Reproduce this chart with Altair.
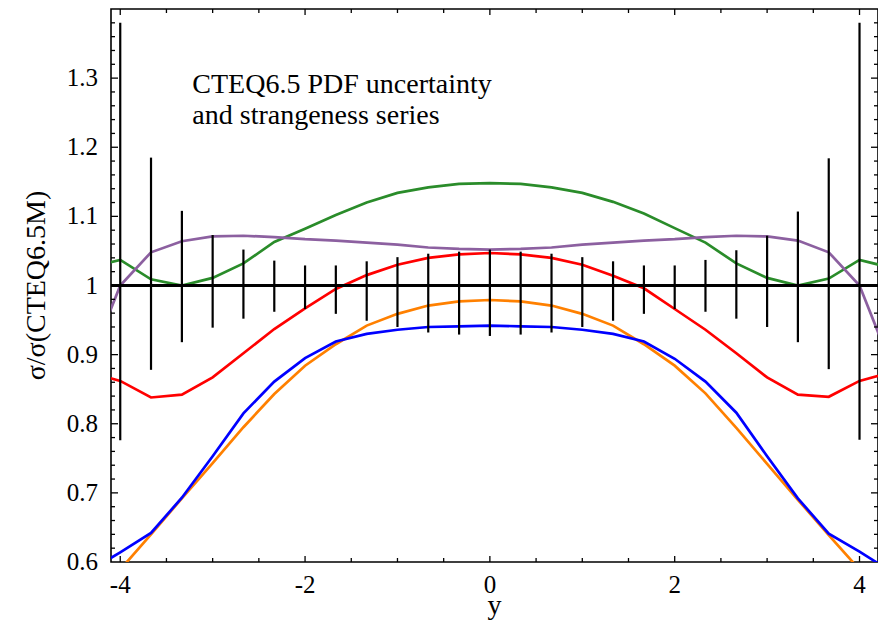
import altair as alt
import pandas as pd

# rapidity sample points (steps of 1/3)
x_pts = [-4.333, -4.0, -3.667, -3.333, -3.0, -2.667, -2.333, -2.0, -1.667, -1.333, -1.0, -0.667, -0.333,
         0.0, 0.333, 0.667, 1.0, 1.333, 1.667, 2.0, 2.333, 2.667, 3.0, 3.333, 3.667, 4.0, 4.333]

green = [1.026, 1.037, 1.009, 1.000, 1.011, 1.032, 1.063, 1.082, 1.102, 1.120, 1.134, 1.142, 1.147,
         1.148, 1.147, 1.142, 1.134, 1.121, 1.104, 1.083, 1.062, 1.032, 1.011, 1.000, 1.010, 1.037, 1.026]
purple = [0.888, 1.000, 1.048, 1.064, 1.071, 1.072, 1.070, 1.067, 1.065, 1.062, 1.059, 1.055, 1.053,
          1.052, 1.053, 1.055, 1.059, 1.062, 1.065, 1.067, 1.070, 1.072, 1.071, 1.065, 1.048, 1.000, 0.888]
red = [0.874, 0.862, 0.838, 0.842, 0.867, 0.902, 0.937, 0.967, 0.995, 1.015, 1.030, 1.040, 1.045,
       1.047, 1.045, 1.040, 1.030, 1.014, 0.996, 0.966, 0.936, 0.902, 0.867, 0.842, 0.839, 0.862, 0.874]
orange = [0.537, 0.589, 0.640, 0.692, 0.743, 0.795, 0.843, 0.884, 0.915, 0.942, 0.959, 0.971, 0.977,
          0.979, 0.977, 0.971, 0.959, 0.942, 0.915, 0.884, 0.844, 0.794, 0.742, 0.690, 0.639, 0.589, 0.537]
blue = [0.587, 0.614, 0.642, 0.693, 0.753, 0.815, 0.861, 0.895, 0.919, 0.930, 0.936, 0.940, 0.941,
        0.942, 0.941, 0.940, 0.936, 0.930, 0.919, 0.894, 0.861, 0.816, 0.753, 0.692, 0.641, 0.615, 0.587]

series_names = ["strange-low", "strange-high", "red", "orange", "blue"]
series_colors = ["#2a8c2a", "#8c60a0", "#ff0000", "#ff8000", "#0000ff"]

# PDF uncertainty band (error bars around 1)
err_x = [-4.0, -3.667, -3.333, -3.0, -2.667, -2.333, -2.0, -1.667, -1.333, -1.0, -0.667, -0.333,
         0.0, 0.333, 0.667, 1.0, 1.333, 1.667, 2.0, 2.333, 2.667, 3.0, 3.333, 3.667, 4.0]
err_hi = [1.380, 1.185, 1.108, 1.073, 1.052, 1.036, 1.029, 1.029, 1.035, 1.041, 1.046, 1.049,
          1.052, 1.049, 1.046, 1.041, 1.035, 1.029, 1.029, 1.037, 1.051, 1.072, 1.107, 1.184, 1.380]
err_lo = [0.776, 0.878, 0.918, 0.939, 0.952, 0.962, 0.966, 0.959, 0.949, 0.940, 0.932, 0.929,
          0.927, 0.929, 0.932, 0.940, 0.949, 0.959, 0.966, 0.962, 0.952, 0.940, 0.918, 0.879, 0.777]

ref_value = [1.0]

x_domain = [-4.1, 4.2]
y_domain = [0.6, 1.4]
x_labels = [-4, -2, 0, 2, 4]
x_label_text = ["-4", "-2", "0", "2", "4"]
x_minor = [-3.5, -3.0, -2.5, -1.5, -1.0, -0.5, 0.5, 1.0, 1.5, 2.5, 3.0, 3.5]
y_labels = [0.6, 0.7, 0.8, 0.9, 1.0, 1.1, 1.2, 1.3]
y_label_text = ["0.6", "0.7", "0.8", "0.9", "1", "1.1", "1.2", "1.3"]
y_major_ticks = [0.7, 0.8, 0.9, 1.0, 1.1, 1.2, 1.3]
y_minor = [0.62, 0.64, 0.66, 0.68, 0.72, 0.74, 0.76, 0.78, 0.82, 0.84, 0.86, 0.88, 0.92, 0.94, 0.96,
           0.98, 1.02, 1.04, 1.06, 1.08, 1.12, 1.14, 1.16, 1.18, 1.22, 1.24, 1.26, 1.28, 1.32, 1.34,
           1.36, 1.38]

x_title = "y"
y_title = "σ/σ(CTEQ6.5M)"
note_text = ["CTEQ6.5 PDF uncertainty", "and strangeness series"]
note_x = [-3.22]
note_y = [1.279]

W, H = 767, 553
FONT = "Liberation Serif"

xs = alt.Scale(domain=x_domain, nice=False, zero=False)
ys = alt.Scale(domain=y_domain, nice=False, zero=False)

def X(field):
    return alt.X(field, scale=xs, axis=None)

def Y(field):
    return alt.Y(field, scale=ys, axis=None)

rows = []
for name, vals in zip(series_names, [green, purple, red, orange, blue]):
    for xv, yv in zip(x_pts, vals):
        rows.append({"x": xv, "v": yv, "s": name})
df_lines = pd.DataFrame(rows)
df_err = pd.DataFrame({"x": err_x, "hi": err_hi, "lo": err_lo})
df_ref = pd.DataFrame({"v": ref_value})

lines = alt.Chart(df_lines).mark_line(clip=True, strokeWidth=2.7).encode(
    x=X("x:Q"), y=Y("v:Q"),
    color=alt.Color("s:N", scale=alt.Scale(domain=series_names, range=series_colors), legend=None),
    detail="s:N",
)

errs = alt.Chart(df_err).mark_rule(color="black", strokeWidth=2.2).encode(
    x=X("x:Q"), y=Y("lo:Q"), y2="hi:Q",
)

ref = alt.Chart(df_ref).mark_rule(color="black", strokeWidth=3).encode(y=Y("v:Q"))

def tick_layer(vals, orient, length):
    d = pd.DataFrame({"t": vals})
    c = alt.Chart(d).mark_rule(color="black", strokeWidth=1.3)
    if orient == "bottom":
        return c.encode(x=X("t:Q"), y=alt.value(H), y2=alt.value(H - length))
    if orient == "top":
        return c.encode(x=X("t:Q"), y=alt.value(0), y2=alt.value(length))
    if orient == "left":
        return c.encode(y=Y("t:Q"), x=alt.value(0), x2=alt.value(length))
    return c.encode(y=Y("t:Q"), x=alt.value(W), x2=alt.value(W - length))

ticks = [
    tick_layer(x_labels, "bottom", 6), tick_layer(x_minor, "bottom", 4),
    tick_layer(x_labels, "top", 6), tick_layer(x_minor, "top", 4),
    tick_layer(y_major_ticks, "left", 7), tick_layer(y_minor, "left", 4),
    tick_layer(y_major_ticks, "right", 7), tick_layer(y_minor, "right", 4),
]

xlab = alt.Chart(pd.DataFrame({"t": x_labels, "s": x_label_text})).mark_text(
    font=FONT, fontSize=25, color="black", align="center", baseline="alphabetic",
).encode(x=X("t:Q"), y=alt.value(H + 31), text="s:N")

ylab = alt.Chart(pd.DataFrame({"t": y_labels, "s": y_label_text})).mark_text(
    font=FONT, fontSize=25, color="black", align="right", baseline="alphabetic", dy=8,
).encode(y=Y("t:Q"), x=alt.value(-13), text="s:N")

xtitle = alt.Chart(pd.DataFrame({"s": [x_title]})).mark_text(
    font=FONT, fontSize=28, color="black", align="center", baseline="alphabetic",
).encode(x=alt.value(W / 2), y=alt.value(H + 52), text="s:N")

ytitle = alt.Chart(pd.DataFrame({"s": [y_title]})).mark_text(
    font=FONT, fontSize=28, color="black", align="center", baseline="alphabetic", angle=270,
).encode(x=alt.value(-66), y=alt.value(H / 2), text="s:N")

note = alt.Chart(pd.DataFrame({"x": note_x, "v": note_y, "t": ["\n".join(note_text)]})).mark_text(
    align="left", baseline="alphabetic", font=FONT, fontSize=28, lineHeight=31, color="black",
    lineBreak="\n",
).encode(x=X("x:Q"), y=Y("v:Q"), text="t:N")

chart = alt.layer(lines, errs, ref, *ticks, xlab, ylab, xtitle, ytitle, note).properties(
    width=W, height=H,
    autosize=alt.AutoSizeParams(type="none"),
    padding={"left": 103, "top": 1, "right": 0, "bottom": 59},
).configure(
    font=FONT,
).configure_view(
    stroke="black", strokeWidth=1.6,
)

chart.save("out.html", embed_options={"renderer": "svg", "actions": False})
